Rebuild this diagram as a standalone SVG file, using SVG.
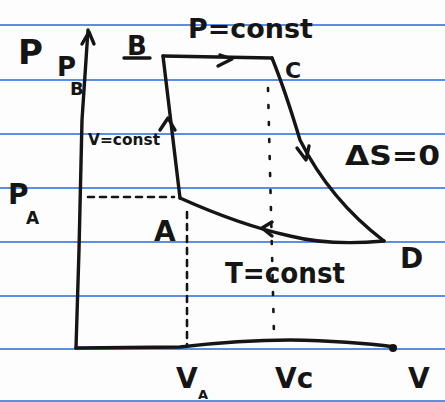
<svg xmlns="http://www.w3.org/2000/svg" width="445" height="402" viewBox="0 0 445 402">
<style>
.rule{stroke:#5b8fe3;stroke-width:2.2;fill:none}
.ink{stroke:#151515;stroke-width:3.4;fill:none;stroke-linecap:round;stroke-linejoin:round}
.dash{stroke:#151515;stroke-width:2.6;fill:none;stroke-dasharray:6 6;stroke-linecap:round}
.dot{stroke:#151515;stroke-width:2.6;fill:none;stroke-dasharray:3 14;stroke-linecap:round}
.t{font-family:"DejaVu Sans",sans-serif;font-weight:bold;fill:#151515}
</style>
<rect width="445" height="402" fill="#fdfdfd"/>
<g id="paper">
<line class="rule" x1="0" y1="25" x2="445" y2="25"/>
<line class="rule" x1="0" y1="80" x2="445" y2="80"/>
<line class="rule" x1="0" y1="134" x2="445" y2="134"/>
<line class="rule" x1="0" y1="188" x2="445" y2="188"/>
<line class="rule" x1="0" y1="242" x2="445" y2="242"/>
<line class="rule" x1="0" y1="296" x2="445" y2="296"/>
<line class="rule" x1="0" y1="349" x2="445" y2="349"/>
<line class="rule" x1="0" y1="401" x2="445" y2="401"/>
</g>
<g id="axes">
<path class="ink" d="M88,30 L82,120 L79,250 L76,348"/>
<path class="ink" d="M82,44 L89,32 L94,44"/>
<path class="ink" d="M76,348 L180,347 Q240,340 290,340 Q350,341 395,347"/>
<circle cx="393" cy="348" r="4" fill="#151515"/>
<text class="t" x="18" y="64" font-size="34">P</text>
<text class="t" x="408" y="388" font-size="28">V</text>
</g>
<g id="connectors">
<path class="ink" d="M163,56 L272,58"/>
<path class="ink" d="M218,66 L232,59 L220,55"/>
<path class="ink" d="M272,58 Q285,90 300,140 Q330,200 384,241"/>
<path class="ink" d="M297,148 L306,160 L309,146"/>
<path class="ink" d="M384,241 Q330,246 290,236 Q240,225 180,198"/>
<path class="ink" d="M272,222 L262,228 L272,236"/>
<path class="ink" d="M180,198 L163,56"/>
<path class="ink" d="M160,130 L168,118 L175,130"/>
<path class="dash" d="M88,197 L174,197"/>
<path class="dash" d="M187,212 L187,345"/>
<path class="dot" d="M268,88 L274,335"/>
</g>
<g id="node-B">
<text class="t" x="127" y="55" font-size="26">B</text>
<path class="ink" d="M124,58 L150,58" stroke-width="2.4"/>
<text class="t" x="57" y="76" font-size="26">P</text>
<text class="t" x="70" y="95" font-size="18">B</text>
</g>
<g id="node-C">
<text class="t" x="285" y="78" font-size="22">C</text>
<text class="t" x="275" y="388" font-size="28">Vc</text>
</g>
<g id="node-D">
<text class="t" x="400" y="268" font-size="28">D</text>
</g>
<g id="node-A">
<text class="t" x="154" y="241" font-size="28">A</text>
<text class="t" x="8" y="204" font-size="28">P</text>
<text class="t" x="26" y="224" font-size="17">A</text>
<text class="t" x="176" y="388" font-size="28">V</text>
<text class="t" x="198" y="399" font-size="13">A</text>
</g>
<g id="labels">
<text class="t" x="188" y="38" font-size="26" textLength="125" lengthAdjust="spacingAndGlyphs">P=const</text>
<text class="t" x="88" y="145" font-size="15" textLength="72" lengthAdjust="spacingAndGlyphs">V=const</text>
<text class="t" x="345" y="165" font-size="26" textLength="95" lengthAdjust="spacingAndGlyphs">ΔS=0</text>
<text class="t" x="225" y="283" font-size="28" textLength="120" lengthAdjust="spacingAndGlyphs">T=const</text>
</g>
</svg>
